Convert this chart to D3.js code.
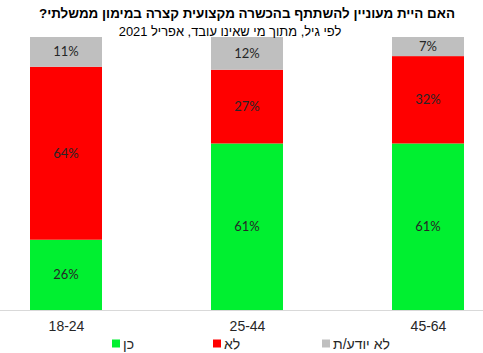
<!DOCTYPE html>
<html>
<head>
<meta charset="utf-8">
<script src="https://cdn.jsdelivr.net/npm/d3@7"></script>
<style>
  body { margin: 0; background: #fff; }
  svg { display: block; }
</style>
</head>
<body>
<div id="chart"></div>
<script>
"use strict";

const ageGroups = ["18-24", "25-44", "45-64"];
const seriesNames = ["כן", "לא", "לא יודע/ת"];
const yesValues = [26, 61, 61];
const noValues = [64, 27, 32];
const dontKnowValues = [11, 12, 7];
const seriesColors = ["#00f030", "#ff0000", "#bfbfbf"];

const width = 483;
const height = 353;
const plotTop = 37;
const plotBottom = 310;
const barWidth = 72;

const rows = ageGroups.map((g, i) => ({
  group: g,
  [seriesNames[0]]: yesValues[i],
  [seriesNames[1]]: noValues[i],
  [seriesNames[2]]: dontKnowValues[i]
}));

// 100% stacked, like the excel original
const stacked = d3.stack()
  .keys(seriesNames)
  .offset(d3.stackOffsetExpand)(rows);

const svg = d3.select("#chart")
  .append("svg")
  .attr("width", width)
  .attr("height", height);

const xScale = d3.scalePoint()
  .domain(ageGroups)
  .range([66, 428]);

const yScale = d3.scaleLinear()
  .domain([0, 1])
  .range([plotBottom, plotTop]);

const color = d3.scaleOrdinal().domain(seriesNames).range(seriesColors);

const layers = svg.selectAll("g.layer")
  .data(stacked)
  .enter()
  .append("g")
  .attr("class", "layer")
  .attr("fill", d => color(d.key));

layers.selectAll("rect")
  .data(d => d)
  .enter()
  .append("rect")
  .attr("x", d => xScale(d.data.group) - barWidth / 2)
  .attr("y", d => yScale(d[1]))
  .attr("width", barWidth)
  .attr("height", d => yScale(d[0]) - yScale(d[1]));

stacked.forEach(layer => {
  svg.selectAll(null)
    .data(layer)
    .enter()
    .append("text")
    .attr("x", d => xScale(d.data.group))
    .attr("y", d => (yScale(d[0]) + yScale(d[1])) / 2)
    .attr("dy", "0.35em")
    .attr("text-anchor", "middle")
    .style("font-family", "Lato, 'Open Sans', sans-serif")
    .style("font-size", "13px")
    .attr("fill", "#262626")
    .text(d => d.data[layer.key] + "%");
});

// baseline
svg.append("line")
  .attr("x1", 0)
  .attr("x2", width)
  .attr("y1", plotBottom + 0.5)
  .attr("y2", plotBottom + 0.5)
  .attr("stroke", "#d9d9d9");

const xAxis = d3.axisBottom(xScale).tickSize(0).tickPadding(11);
svg.append("g")
  .attr("transform", `translate(0, ${plotBottom})`)
  .call(xAxis)
  .call(g => g.select(".domain").remove())
  .call(g => g.selectAll("text")
    .style("font-family", "'Liberation Sans', Arial, sans-serif")
    .style("font-size", "14px")
    .attr("fill", "#262626"));

// legend
const legendX = [112, 213, 322];
const legend = svg.selectAll("g.legend")
  .data(seriesNames)
  .enter()
  .append("g")
  .attr("class", "legend")
  .attr("transform", (d, i) => `translate(${legendX[i]}, 344)`);

legend.append("rect")
  .attr("x", 0)
  .attr("y", -4.5)
  .attr("width", 8)
  .attr("height", 8)
  .attr("fill", d => color(d));

legend.append("text")
  .attr("x", 11)
  .attr("dy", "0.35em")
  .attr("direction", "rtl")
  .attr("text-anchor", "end")
  .style("font-family", "'Liberation Sans', Arial, sans-serif")
  .style("font-size", "14px")
  .attr("fill", "#262626")
  .text(d => d);

// titles
svg.append("text")
  .attr("x", 247)
  .attr("y", 18)
  .attr("text-anchor", "middle")
  .attr("direction", "rtl")
  .style("font-family", "'Liberation Sans', Arial, sans-serif")
  .style("font-size", "13.4px")
  .style("font-weight", "bold")
  .attr("fill", "#000")
  .text("האם היית מעוניין להשתתף בהכשרה מקצועית קצרה במימון ממשלתי?");

svg.append("text")
  .attr("x", 230)
  .attr("y", 36)
  .attr("text-anchor", "middle")
  .attr("direction", "rtl")
  .style("font-family", "'Liberation Sans', Arial, sans-serif")
  .style("font-size", "12.9px")
  .attr("fill", "#000")
  .text("לפי גיל, מתוך מי שאינו עובד, אפריל 2021");
</script>
</body>
</html>
